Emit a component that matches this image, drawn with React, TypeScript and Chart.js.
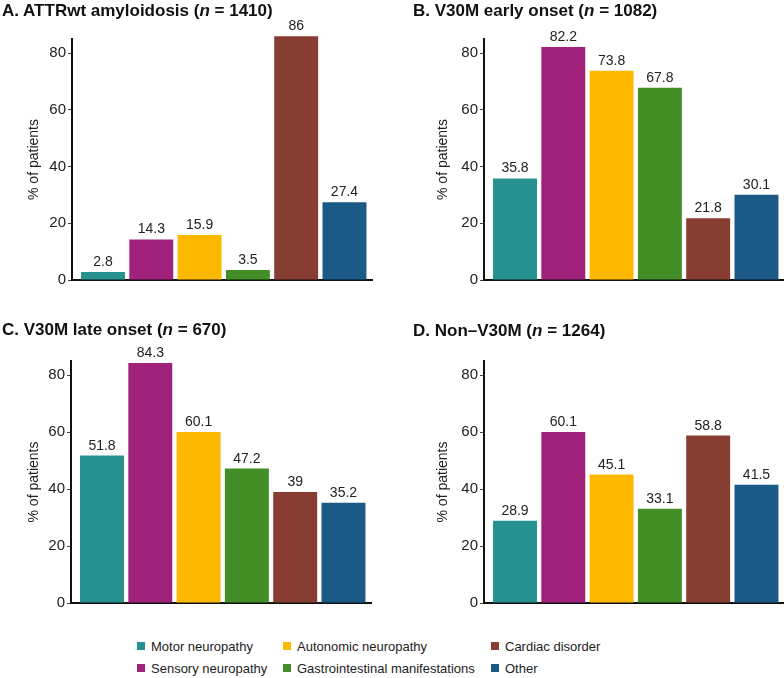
import React, { useEffect, useRef } from "react";
import { Chart, registerables } from "chart.js";

Chart.register(...registerables);

const categories = [
  "Motor neuropathy",
  "Sensory neuropathy",
  "Autonomic neuropathy",
  "Gastrointestinal manifestations",
  "Cardiac disorder",
  "Other",
];
const barColors = ["#26918F", "#A0217A", "#FDB900", "#438E27", "#883D32", "#1B5987"];

const valuesA = [2.8, 14.3, 15.9, 3.5, 86, 27.4];
const valuesB = [35.8, 82.2, 73.8, 67.8, 21.8, 30.1];
const valuesC = [51.8, 84.3, 60.1, 47.2, 39, 35.2];
const valuesD = [28.9, 60.1, 45.1, 33.1, 58.8, 41.5];

const yTicks = [0, 20, 40, 60, 80];
const yMax = 85;
const yTitle = "% of patients";

const FONT = "'Liberation Sans', Arial, Helvetica, sans-serif";

const valueLabelPlugin = {
  id: "valueLabels",
  afterDatasetsDraw(chart: any) {
    const ctx = chart.ctx;
    ctx.save();
    ctx.font = `14px ${FONT}`;
    ctx.fillStyle = "#222";
    ctx.textAlign = "center";
    ctx.textBaseline = "alphabetic";
    chart.data.datasets.forEach((ds: any, di: number) => {
      const meta = chart.getDatasetMeta(di);
      meta.data.forEach((bar: any, i: number) => {
        const v = ds.data[i].y;
        ctx.fillText(String(v), bar.x, bar.y - 6);
      });
    });
    ctx.restore();
  },
};

type PanelProps = {
  values: number[];
  left: number;
  top: number;
  width: number;
  height: number;
  axisWidth: number;
  padTop: number;
  padBottom: number;
  padRight: number;
  titleOffset: number;
};

function Panel(p: PanelProps) {
  const ref = useRef<HTMLCanvasElement | null>(null);
  useEffect(() => {
    if (!ref.current) return;
    const chart = new Chart(ref.current, {
      type: "bar",
      data: {
        datasets: [
          {
            data: p.values.map((v, i) => ({ x: i, y: v })),
            backgroundColor: barColors,
            borderWidth: 0,
            barPercentage: 0.91,
            categoryPercentage: 1,
            clip: false as any,
          },
        ],
      },
      options: {
        animation: false,
        responsive: false,
        devicePixelRatio: 1,
        layout: {
          padding: { left: 0, right: p.padRight, top: p.padTop, bottom: p.padBottom },
        },
        plugins: {
          legend: { display: false },
          tooltip: { enabled: false },
        },
        scales: {
          x: {
            type: "linear",
            offset: false,
            min: -0.642,
            max: 5.57,
            grid: { display: false, offset: false },
            ticks: { display: false },
            border: { display: true, color: "#111", width: 2 },
            afterFit: (s: any) => {
              s.height = 0;
            },
          },
          y: {
            min: 0,
            max: yMax,
            afterBuildTicks: (s: any) => {
              s.ticks = yTicks.map((v) => ({ value: v }));
            },
            ticks: {
              includeBounds: false,
              color: "#222",
              font: { size: 15, family: FONT },
              padding: 2,
            },
            grid: {
              display: true,
              drawOnChartArea: false,
              drawTicks: true,
              tickLength: 4,
              tickColor: "#444",
              lineWidth: 1,
            },
            border: { display: true, color: "#111", width: 2 },
            title: {
              display: true,
              text: yTitle,
              color: "#222",
              font: { size: 14, family: FONT },
              padding: { top: p.titleOffset, bottom: 0 },
            },
            afterFit: (s: any) => {
              s.width = p.axisWidth;
            },
          },
        },
      },
      plugins: [valueLabelPlugin],
    } as any);
    return () => chart.destroy();
  }, []);
  return (
    <div style={{ position: "absolute", left: p.left, top: p.top, width: p.width, height: p.height }}>
      <canvas ref={ref} width={p.width} height={p.height} style={{ width: p.width, height: p.height, display: "block" }} />
    </div>
  );
}

const titleStyle: React.CSSProperties = {
  position: "absolute",
  fontFamily: FONT,
  fontWeight: "bold",
  fontSize: 17,
  lineHeight: "20px",
  color: "#111",
  whiteSpace: "nowrap",
};

function Title({ left, top, prefix, n }: { left: number; top: number; prefix: string; n: number }) {
  return (
    <div style={{ ...titleStyle, left, top }}>
      {prefix} (<i>n</i> = {n})
    </div>
  );
}

const legendCols = [137, 283, 491];

function Legend() {
  const order = [
    [0, 0, 0],
    [1, 0, 1],
    [2, 1, 0],
    [3, 1, 1],
    [4, 2, 0],
    [5, 2, 1],
  ];
  return (
    <>
      {order.map(([ci, col, row]) => (
        <div
          key={ci}
          style={{
            position: "absolute",
            left: legendCols[col],
            top: 638 + row * 22,
            height: 16,
            display: "flex",
            alignItems: "center",
            fontFamily: FONT,
            fontSize: 13,
            color: "#222",
            whiteSpace: "nowrap",
          }}
        >
          <span style={{ display: "inline-block", width: 8, height: 8, background: barColors[ci], marginRight: 6 }} />
          <span>{categories[ci]}</span>
        </div>
      ))}
    </>
  );
}

export default function App() {
  return (
    <div style={{ position: "absolute", left: 0, top: 0, width: 784, height: 678, background: "#fff", overflow: "hidden" }}>
      <Panel values={valuesA} left={0} top={0} width={392} height={300} axisWidth={72} padTop={39} padBottom={20} padRight={20} titleOffset={26} />
      <Panel values={valuesB} left={392} top={0} width={392} height={300} axisWidth={92} padTop={39} padBottom={20} padRight={0} titleOffset={43} />
      <Panel values={valuesC} left={0} top={300} width={392} height={320} axisWidth={71} padTop={61} padBottom={17} padRight={21} titleOffset={26} />
      <Panel values={valuesD} left={392} top={300} width={392} height={320} axisWidth={92} padTop={61} padBottom={17} padRight={0} titleOffset={43} />
      <Title left={2} top={1} prefix="A. ATTRwt amyloidosis" n={1410} />
      <Title left={413} top={1} prefix="B. V30M early onset" n={1082} />
      <Title left={2} top={320} prefix="C. V30M late onset" n={670} />
      <Title left={413} top={321} prefix="D. Non–V30M" n={1264} />
      <Legend />
    </div>
  );
}
